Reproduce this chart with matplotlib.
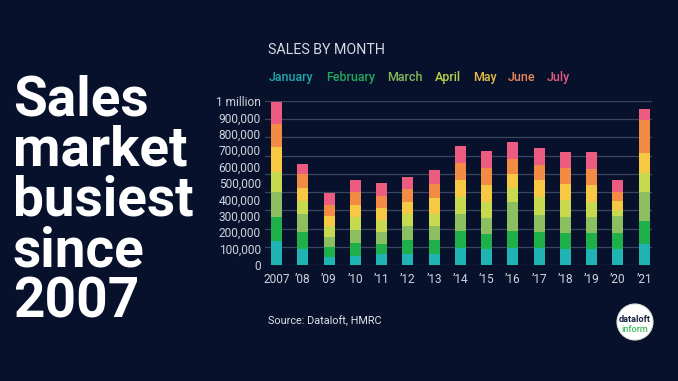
import numpy as np
import matplotlib.pyplot as plt
from matplotlib.patches import Circle

plt.rcParams['font.family'] = ['Roboto', 'DejaVu Sans']

years = ['2007', '’08', '’09', '’10', '’11', '’12', '’13', '’14',
         '’15', '’16', '’17', '’18', '’19', '’20', '’21']
months = ['January', 'February', 'March', 'April', 'May', 'June', 'July']

# monthly sales per year (Jan..Jul)
jan = [148000, 100000, 47000, 55000, 65000, 65000, 65000, 101000,
       95000, 101000, 101000, 95000, 95000, 95000, 128000]
feb = [147000, 100000, 65000, 82000, 62000, 86000, 86000, 108000,
       94000, 108000, 102000, 98000, 98000, 98000, 142000]
mar = [148000, 112000, 61000, 75000, 77000, 88000, 88000, 105000,
       95000, 176000, 101000, 101000, 101000, 105000, 176000]
apr = [126000, 81000, 65000, 78000, 69000, 71000, 71000, 102000,
       101000, 82000, 112000, 102000, 91000, 37000, 116000]
may = [153000, 78000, 63000, 77000, 74000, 76000, 98000, 105000,
       102000, 87000, 101000, 97000, 102000, 54000, 122000]
jun = [136000, 81000, 65000, 76000, 75000, 77000, 86000, 102000,
       105000, 95000, 92000, 99000, 101000, 57000, 198000]
jul = [134000, 65000, 71000, 75000, 76000, 72000, 88000, 101000,
       106000, 101000, 107000, 98000, 98000, 71000, 71000]

series = [jan, feb, mar, apr, may, jun, jul]
colors = ['#1fb3b4', '#1fb04c', '#8bbf5f', '#c6d94f', '#f6c843', '#f28b44', '#ec5b80']
label_colors = ['#1ea9ad', '#22a859', '#85b85a', '#bcd14c', '#e8bd45', '#e9845a', '#e25a82']

y_ticks = np.arange(0, 1000001, 100000)
y_labels = ['0'] + [f'{v:,}' for v in y_ticks[1:-1]] + ['1 million']

bg = '#07112b'
W, H = 678, 381


def px(x, y):
    return x / W, 1 - y / H


fig = plt.figure(figsize=(6.78, 3.81), dpi=100, facecolor=bg)
ax = fig.add_axes([265 / W, 1 - 265 / H, 387 / W, 164 / H], facecolor=bg)

x = np.arange(len(years))
bottom = np.zeros(len(years))
for vals, c in zip(series, colors):
    ax.bar(x, vals, width=0.42, bottom=bottom, color=c, zorder=3)
    bottom += np.array(vals)

ax.set_xlim(-0.44, 14.3)
ax.set_ylim(0, 1000000)

# decorative grid lines (9 equal bands in the original)
for g in np.linspace(0, 1000000, 10):
    ax.axhline(g, color='#3b4660', lw=0.9, zorder=1)

ax.set_yticks(y_ticks)
ax.set_yticklabels(y_labels)
ax.set_xticks(x)
ax.set_xticklabels(years)
ax.tick_params(axis='both', length=0, colors='#cfd3dc', labelsize=8.6)
ax.tick_params(axis='y', pad=3)
ax.tick_params(axis='x', pad=6)
for s in ax.spines.values():
    s.set_visible(False)

# headline
lines = ['Sales', 'market', 'busiest', 'since', '2007']
for i, t in enumerate(lines):
    fig.text(*px(13, 115 + i * 50.5), t, color='white', fontsize=39.5,
             fontweight='bold', va='baseline', ha='left')

fig.text(*px(268, 50), 'SALES BY MONTH', color='#d6dae3', fontsize=10.3,
         va='center', ha='left')

legend_x = [269, 326, 387, 435, 473, 508, 547]
for lx, m, c in zip(legend_x, months, label_colors):
    fig.text(*px(lx, 77.5), m, color=c, fontsize=9, fontweight='medium',
             va='center', ha='left')

fig.text(*px(268, 321), 'Source: Dataloft, HMRC', color='#dfe2ea', fontsize=7.8,
         va='center', ha='left')

# logo
circ = Circle((635 / 100, (H - 322) / 100), 0.18, transform=fig.dpi_scale_trans,
              facecolor='white', edgecolor='#dfe6e0', lw=0.8)
fig.patches.append(circ)
fig.text(*px(635, 320), 'dataloft', color='#1a2440', fontsize=6.6,
         fontweight='bold', ha='center', va='center')
fig.text(*px(635, 330), 'inform', color='#3dbd5d', fontsize=6.6,
         fontweight='medium', ha='center', va='center')

fig.savefig('out.png', dpi=100, facecolor=bg)
